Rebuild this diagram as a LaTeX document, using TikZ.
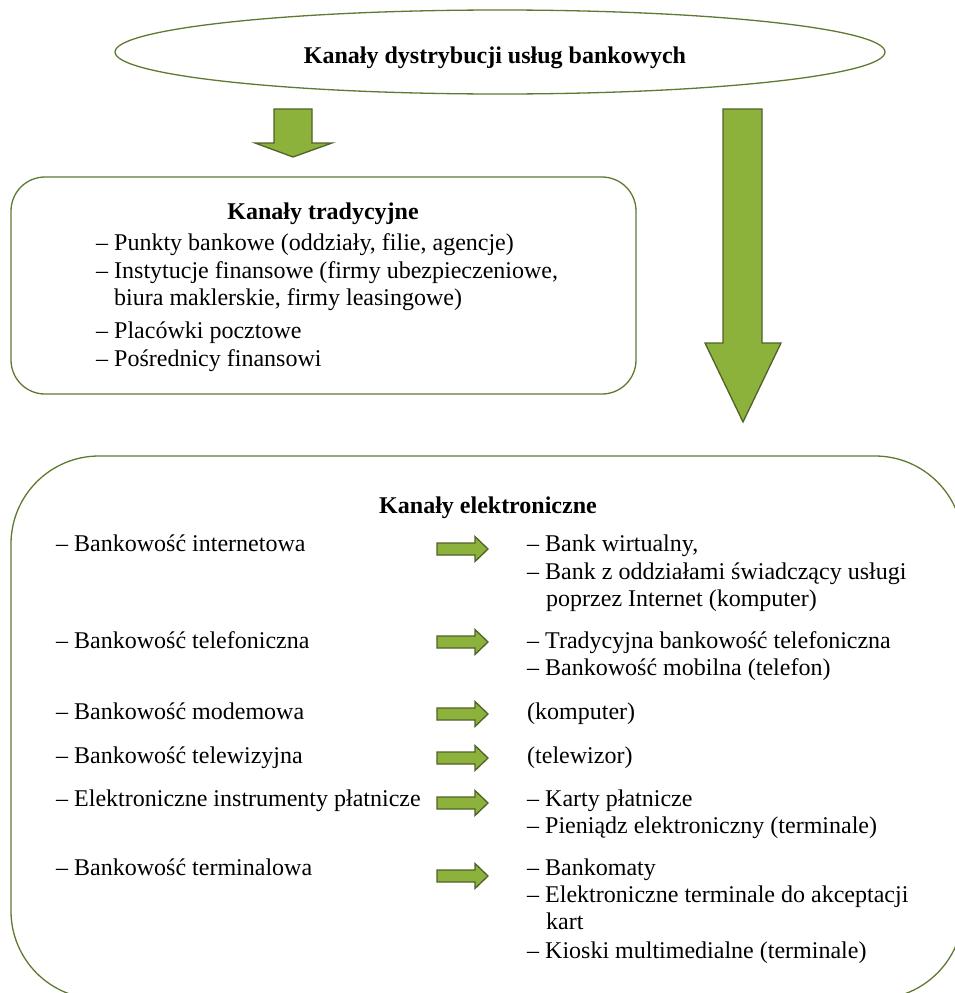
\documentclass[tikz,border=0pt]{standalone}
\usepackage{fontspec}
\setmainfont{Liberation Serif}
\definecolor{boxline}{HTML}{5F7A30}
\definecolor{arrfill}{HTML}{8CB23C}
\definecolor{arrline}{HTML}{4F6228}
\tikzset{
  frame/.style={draw=boxline, line width=1.3pt},
  blockarrow/.style={fill=arrfill, draw=arrline, line width=1.3pt, line join=miter},
  txt/.style={anchor=mid west, inner sep=0pt, yshift=-4pt, font=\fontsize{24}{28}\selectfont},
  ttl/.style={anchor=mid, inner sep=0pt, yshift=-4pt, font=\fontsize{24}{28}\selectfont\bfseries},
}
\newcommand{\rarrow}[1]{%
  \draw[blockarrow] (437,#1-6) -- (475,#1-6) -- (475,#1-12.5) -- (488,#1) -- (475,#1+12.5) -- (475,#1+6) -- (437,#1+6) -- cycle;}
\begin{document}
\begin{tikzpicture}[x=1pt,y=-1pt]
\useasboundingbox (0,0) rectangle (955,993);
\clip (0,0) rectangle (955,993);
% top ellipse
\draw[frame] (500,52) ellipse [x radius=385, y radius=42];
\node[ttl] (title) at (495,57) {Kanały dystrybucji usług bankowych};
% down arrows
\draw[blockarrow] (274,109) -- (312,109) -- (312,143) -- (332,143) -- (293,157) -- (255,143) -- (274,143) -- cycle;
\draw[blockarrow] (723,109) -- (762,109) -- (762,343) -- (781,343) -- (743,422) -- (705,343) -- (723,343) -- cycle;
% traditional box
\draw[frame, rounded corners=34pt] (11,177) rectangle (636,394);
\node[ttl] (trad) at (323,213) {Kanały tradycyjne};
\node[txt] (t1) at (96,244) {– Punkty bankowe (oddziały, filie, agencje)};
\node[txt] (t2) at (96,272) {– Instytucje finansowe (firmy ubezpieczeniowe,};
\node[txt] (t2b) at (114,299) {biura maklerskie, firmy leasingowe)};
\node[txt] (t3) at (96,332) {– Placówki pocztowe};
\node[txt] (t4) at (96,360) {– Pośrednicy finansowi};
% electronic box
\draw[frame, rounded corners=88pt] (11,456) rectangle (963,999);
\node[ttl] (elek) at (488,507) {Kanały elektroniczne};
\node[txt] (e1) at (56,545) {– Bankowość internetowa};
\node[txt] (e2) at (56,642) {– Bankowość telefoniczna};
\node[txt] (e3) at (56,713) {– Bankowość modemowa};
\node[txt] (e4) at (56,757) {– Bankowość telewizyjna};
\node[txt] (e5) at (56,800) {– Elektroniczne instrumenty płatnicze};
\node[txt] (e6) at (56,869) {– Bankowość terminalowa};
\rarrow{549}
\rarrow{642}
\rarrow{714}
\rarrow{758}
\rarrow{803}
\rarrow{876}
\node[txt] (r1a) at (527,545) {– Bank wirtualny,};
\node[txt] (r1b) at (527,573) {– Bank z oddziałami świadczący usługi};
\node[txt] (r1c) at (546,600) {poprzez Internet (komputer)};
\node[txt] (r2a) at (527,642) {– Tradycyjna bankowość telefoniczna};
\node[txt] (r2b) at (527,669) {– Bankowość mobilna (telefon)};
\node[txt] (r3) at (527,713) {(komputer)};
\node[txt] (r4) at (527,757) {(telewizor)};
\node[txt] (r5a) at (527,800) {– Karty płatnicze};
\node[txt] (r5b) at (527,827) {– Pieniądz elektroniczny (terminale)};
\node[txt] (r6a) at (527,869) {– Bankomaty};
\node[txt] (r6b) at (527,896) {– Elektroniczne terminale do akceptacji};
\node[txt] (r6c) at (546,923) {kart};
\node[txt] (r6d) at (527,952) {– Kioski multimedialne (terminale)};
\end{tikzpicture}
\end{document}
